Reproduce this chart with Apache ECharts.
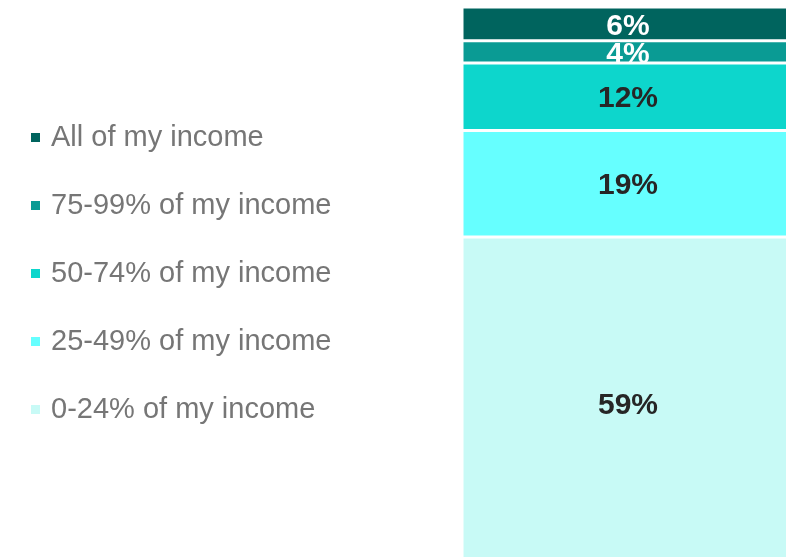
<!DOCTYPE html>
<html><head><meta charset="utf-8">
<script src="https://cdn.jsdelivr.net/npm/echarts@6/dist/echarts.min.js"></script>
<style>html,body{margin:0;padding:0;background:#fff}#c{width:786px;height:557px}</style>
</head><body><div id="c"></div>
<script>
const categories = ['All respondents'];
const seriesNames = ['0-24% of my income','25-49% of my income','50-74% of my income','75-99% of my income','All of my income'];
const values0_24 = [59];
const values25_49 = [19];
const values50_74 = [12];
const values75_99 = [4];
const valuesAll = [6];
const colors = ['#C8FAF6','#66FFFF','#0DD6CC','#0A9B94','#00645E'];
const labelColors = ['#262626','#262626','#262626','#ffffff','#ffffff'];
const labelOffsets = [[0,3],[0,2],[0,2],[0,3],[0,3]];
const seriesValues = [values0_24, values25_49, values50_74, values75_99, valuesAll];

const chart = echarts.init(document.getElementById('c'));
chart.setOption({
  animation:false,
  backgroundColor:'#fff',
  grid:{left:470, top:7, right:0, bottom:0},
  xAxis:{type:'category', data:categories, show:false},
  yAxis:{type:'value', min:2, max:100, show:false},
  legend:{
    orient:'vertical', left:24, top:118,
    data:seriesNames.slice().reverse(),
    icon:'rect', itemWidth:11, itemHeight:11, itemGap:39,
    textStyle:{fontFamily:'Liberation Sans, Arial, sans-serif', fontSize:29, color:'#767676', lineHeight:29, padding:[0,0,0,5]}
  },
  series: seriesNames.map((n,i)=>({
    name:n, type:'bar', stack:'total', barWidth:332, clip:false,
    data:seriesValues[i],
    itemStyle:{color:colors[i], borderColor:'#fff', borderWidth:1.5},
    label:{show:true, position:'inside', formatter:'{c}%', color:labelColors[i], offset:labelOffsets[i],
      fontFamily:'Liberation Sans, Arial, sans-serif', fontWeight:'bold', fontSize:30}
  }))
});
</script></body></html>
